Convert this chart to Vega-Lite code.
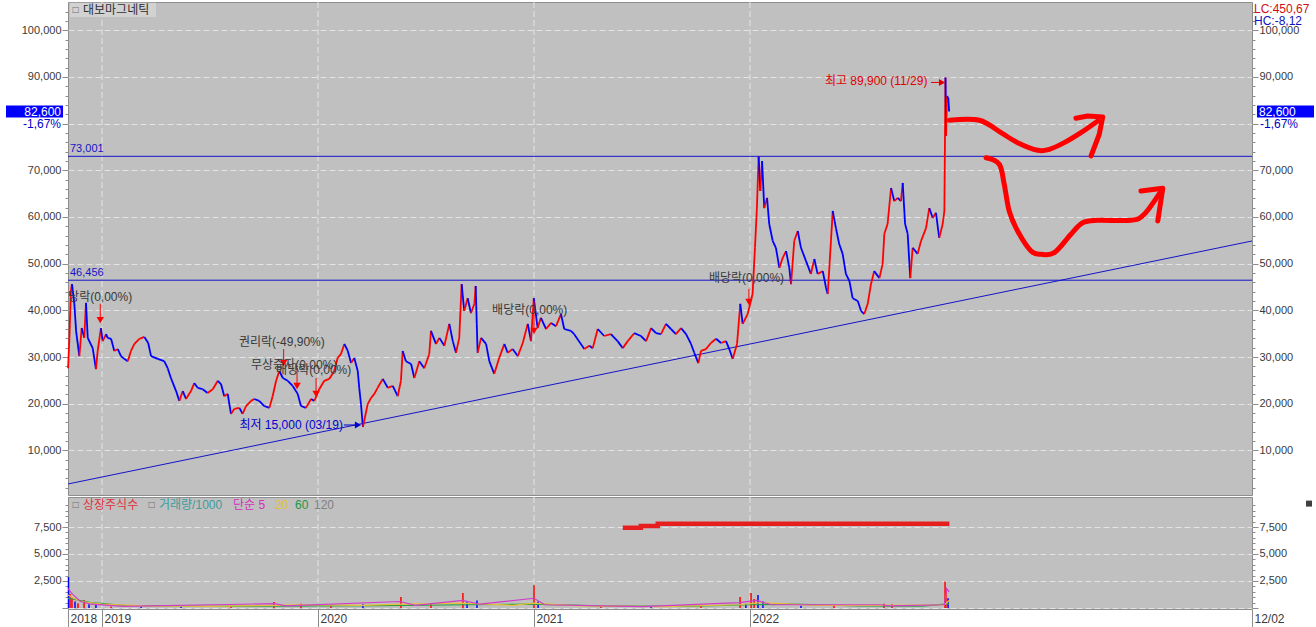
{
  "$schema": "https://vega.github.io/schema/vega-lite/v6.json",
  "padding": {"left": 5, "right": 3, "top": 1, "bottom": 0},
  "background": "white",
  "spacing": 0,
  "config": {
    "view": {"fill": "#c0c0c0", "stroke": "#8c8c8c"},
    "axis": {"labelFont": "Liberation Sans", "labelFontSize": 11, "labelColor": "#3a3a3a", "tickColor": "#8c8c8c", "domain": false, "labelOverlap": false, "labelFlush": false, "labelBound": false}
  },
  "datasets": {
    "px": [
      {"t": 2018.843, "p": 27600}, {"t": 2018.849, "p": 34100}, {"t": 2018.856, "p": 44100}, {"t": 2018.861, "p": 45600},
      {"t": 2018.872, "p": 41400}, {"t": 2018.880, "p": 35600}, {"t": 2018.895, "p": 30200}, {"t": 2018.906, "p": 36200},
      {"t": 2018.918, "p": 34100}, {"t": 2018.926, "p": 41600}, {"t": 2018.934, "p": 34100}, {"t": 2018.957, "p": 31900},
      {"t": 2018.972, "p": 27400}, {"t": 2018.980, "p": 31300}, {"t": 2018.995, "p": 36200}, {"t": 2019.003, "p": 33400},
      {"t": 2019.019, "p": 34900}, {"t": 2019.026, "p": 34100}, {"t": 2019.042, "p": 33900}, {"t": 2019.057, "p": 31300},
      {"t": 2019.073, "p": 31700}, {"t": 2019.088, "p": 30200}, {"t": 2019.103, "p": 29600}, {"t": 2019.119, "p": 29100},
      {"t": 2019.134, "p": 31300}, {"t": 2019.150, "p": 32800}, {"t": 2019.173, "p": 33900}, {"t": 2019.196, "p": 34300},
      {"t": 2019.214, "p": 33000}, {"t": 2019.227, "p": 30200}, {"t": 2019.258, "p": 29600}, {"t": 2019.288, "p": 29100},
      {"t": 2019.304, "p": 27600}, {"t": 2019.319, "p": 25500}, {"t": 2019.343, "p": 22700}, {"t": 2019.358, "p": 20600},
      {"t": 2019.374, "p": 22700}, {"t": 2019.389, "p": 21000}, {"t": 2019.412, "p": 22700}, {"t": 2019.427, "p": 24400},
      {"t": 2019.443, "p": 23400}, {"t": 2019.466, "p": 23100}, {"t": 2019.489, "p": 22300}, {"t": 2019.513, "p": 23100},
      {"t": 2019.536, "p": 24900}, {"t": 2019.551, "p": 24200}, {"t": 2019.566, "p": 21600}, {"t": 2019.582, "p": 22100},
      {"t": 2019.597, "p": 17800}, {"t": 2019.613, "p": 18900}, {"t": 2019.636, "p": 19100}, {"t": 2019.651, "p": 17800},
      {"t": 2019.667, "p": 19500}, {"t": 2019.690, "p": 20600}, {"t": 2019.705, "p": 21000}, {"t": 2019.728, "p": 20600},
      {"t": 2019.751, "p": 19500}, {"t": 2019.775, "p": 19100}, {"t": 2019.790, "p": 21600}, {"t": 2019.806, "p": 24900},
      {"t": 2019.821, "p": 27000}, {"t": 2019.837, "p": 25500}, {"t": 2019.860, "p": 24900}, {"t": 2019.883, "p": 23800},
      {"t": 2019.906, "p": 22100}, {"t": 2019.921, "p": 19500}, {"t": 2019.944, "p": 19100}, {"t": 2019.968, "p": 21000},
      {"t": 2019.983, "p": 20600}, {"t": 2020.006, "p": 23100}, {"t": 2020.029, "p": 24900}, {"t": 2020.052, "p": 25300},
      {"t": 2020.075, "p": 27000}, {"t": 2020.091, "p": 29800}, {"t": 2020.106, "p": 30600}, {"t": 2020.122, "p": 32800},
      {"t": 2020.138, "p": 31300}, {"t": 2020.153, "p": 28700}, {"t": 2020.168, "p": 29800}, {"t": 2020.184, "p": 27000},
      {"t": 2020.191, "p": 23400}, {"t": 2020.199, "p": 19900}, {"t": 2020.208, "p": 15000}, {"t": 2020.230, "p": 19900},
      {"t": 2020.245, "p": 21200}, {"t": 2020.261, "p": 22100}, {"t": 2020.276, "p": 23400}, {"t": 2020.300, "p": 25300},
      {"t": 2020.323, "p": 23400}, {"t": 2020.346, "p": 23800}, {"t": 2020.369, "p": 21600}, {"t": 2020.384, "p": 24900},
      {"t": 2020.392, "p": 31300}, {"t": 2020.407, "p": 29100}, {"t": 2020.431, "p": 28500}, {"t": 2020.446, "p": 25500},
      {"t": 2020.469, "p": 29100}, {"t": 2020.492, "p": 27600}, {"t": 2020.515, "p": 30600}, {"t": 2020.523, "p": 35600},
      {"t": 2020.546, "p": 32800}, {"t": 2020.562, "p": 34100}, {"t": 2020.585, "p": 32400}, {"t": 2020.608, "p": 37100},
      {"t": 2020.624, "p": 33400}, {"t": 2020.639, "p": 30900}, {"t": 2020.654, "p": 34100}, {"t": 2020.665, "p": 45600},
      {"t": 2020.677, "p": 39900}, {"t": 2020.693, "p": 42600}, {"t": 2020.708, "p": 39400}, {"t": 2020.724, "p": 41400},
      {"t": 2020.730, "p": 45200}, {"t": 2020.735, "p": 37100}, {"t": 2020.739, "p": 30900}, {"t": 2020.755, "p": 34100},
      {"t": 2020.778, "p": 32800}, {"t": 2020.793, "p": 29100}, {"t": 2020.816, "p": 26400}, {"t": 2020.839, "p": 29800},
      {"t": 2020.863, "p": 32800}, {"t": 2020.878, "p": 30900}, {"t": 2020.901, "p": 31700}, {"t": 2020.925, "p": 30200},
      {"t": 2020.948, "p": 33000}, {"t": 2020.971, "p": 37100}, {"t": 2020.986, "p": 33400}, {"t": 2020.999, "p": 42600},
      {"t": 2021.017, "p": 36200}, {"t": 2021.032, "p": 38400}, {"t": 2021.056, "p": 36000}, {"t": 2021.079, "p": 37300},
      {"t": 2021.102, "p": 36600}, {"t": 2021.125, "p": 39200}, {"t": 2021.140, "p": 36000}, {"t": 2021.171, "p": 35600},
      {"t": 2021.186, "p": 34900}, {"t": 2021.233, "p": 31700}, {"t": 2021.256, "p": 32400}, {"t": 2021.272, "p": 31900},
      {"t": 2021.295, "p": 36000}, {"t": 2021.325, "p": 34500}, {"t": 2021.356, "p": 34900}, {"t": 2021.387, "p": 33400},
      {"t": 2021.411, "p": 31900}, {"t": 2021.434, "p": 33400}, {"t": 2021.464, "p": 35100}, {"t": 2021.495, "p": 34500},
      {"t": 2021.519, "p": 33400}, {"t": 2021.542, "p": 36200}, {"t": 2021.565, "p": 35100}, {"t": 2021.588, "p": 34900},
      {"t": 2021.611, "p": 37100}, {"t": 2021.634, "p": 36000}, {"t": 2021.657, "p": 34900}, {"t": 2021.681, "p": 36200},
      {"t": 2021.704, "p": 34900}, {"t": 2021.727, "p": 32800}, {"t": 2021.742, "p": 30900}, {"t": 2021.761, "p": 28700},
      {"t": 2021.773, "p": 31300}, {"t": 2021.796, "p": 31700}, {"t": 2021.819, "p": 33000}, {"t": 2021.843, "p": 33900},
      {"t": 2021.866, "p": 33000}, {"t": 2021.889, "p": 33400}, {"t": 2021.904, "p": 31700}, {"t": 2021.920, "p": 29600},
      {"t": 2021.940, "p": 32800}, {"t": 2021.946, "p": 36200}, {"t": 2021.955, "p": 41400}, {"t": 2021.966, "p": 37100},
      {"t": 2021.989, "p": 39200}, {"t": 2022.012, "p": 43500}, {"t": 2022.023, "p": 53400}, {"t": 2022.032, "p": 61900},
      {"t": 2022.040, "p": 73000}, {"t": 2022.048, "p": 65600}, {"t": 2022.056, "p": 72000}, {"t": 2022.066, "p": 61900},
      {"t": 2022.079, "p": 64100}, {"t": 2022.089, "p": 58500}, {"t": 2022.105, "p": 54900}, {"t": 2022.120, "p": 53400},
      {"t": 2022.136, "p": 49100}, {"t": 2022.151, "p": 51200}, {"t": 2022.167, "p": 52700}, {"t": 2022.182, "p": 49100},
      {"t": 2022.190, "p": 45600}, {"t": 2022.205, "p": 54900}, {"t": 2022.221, "p": 57000}, {"t": 2022.236, "p": 53400},
      {"t": 2022.259, "p": 50600}, {"t": 2022.282, "p": 47800}, {"t": 2022.298, "p": 51000}, {"t": 2022.313, "p": 47800},
      {"t": 2022.337, "p": 48400}, {"t": 2022.352, "p": 44800}, {"t": 2022.360, "p": 43500}, {"t": 2022.372, "p": 52700},
      {"t": 2022.383, "p": 61300}, {"t": 2022.398, "p": 57600}, {"t": 2022.413, "p": 54200}, {"t": 2022.429, "p": 52100},
      {"t": 2022.444, "p": 47800}, {"t": 2022.460, "p": 46300}, {"t": 2022.475, "p": 42600}, {"t": 2022.499, "p": 42000},
      {"t": 2022.514, "p": 39900}, {"t": 2022.529, "p": 39200}, {"t": 2022.545, "p": 41400}, {"t": 2022.560, "p": 45600},
      {"t": 2022.575, "p": 48400}, {"t": 2022.599, "p": 46900}, {"t": 2022.614, "p": 49900}, {"t": 2022.622, "p": 56400},
      {"t": 2022.637, "p": 58500}, {"t": 2022.653, "p": 66200}, {"t": 2022.668, "p": 63400}, {"t": 2022.684, "p": 64100},
      {"t": 2022.699, "p": 63400}, {"t": 2022.707, "p": 67300}, {"t": 2022.718, "p": 58500}, {"t": 2022.730, "p": 56400},
      {"t": 2022.742, "p": 46900}, {"t": 2022.753, "p": 53400}, {"t": 2022.776, "p": 52100}, {"t": 2022.792, "p": 54900},
      {"t": 2022.815, "p": 57600}, {"t": 2022.830, "p": 61900}, {"t": 2022.846, "p": 59800}, {"t": 2022.861, "p": 60900},
      {"t": 2022.876, "p": 55500}, {"t": 2022.892, "p": 58500}, {"t": 2022.900, "p": 61300}, {"t": 2022.905, "p": 89900},
      {"t": 2022.908, "p": 77400}, {"t": 2022.912, "p": 85900}, {"t": 2022.918, "p": 85500}, {"t": 2022.922, "p": 82600}
    ],
    "years": [{"t": 2019}, {"t": 2020}, {"t": 2021}, {"t": 2022}],
    "levels": [
      {"t": 2018.8426, "p": 73001, "lab": "73,001"},
      {"t": 2018.8426, "p": 46456, "lab": "46,456"}
    ],
    "trend": [
      {"t": 2018.8426, "p": 2790},
      {"t": 2024.3241, "p": 54860}
    ],
    "cur": [
      {"side": "L", "t": 2018.8426, "p": 82600, "price": "82,600", "chg": "-1,67%"},
      {"side": "R", "t": 2024.3241, "p": 82600, "price": "82,600", "chg": "-1,67%"}
    ],
    "events": [
      {"t": 2018.792, "p": 42860, "lab": "배당락(0,00%)"},
      {"t": 2019.634, "p": 33210, "lab": "권리락(-49,90%)"},
      {"t": 2019.690, "p": 28290, "lab": "무상증자(0,00%)"},
      {"t": 2019.806, "p": 27210, "lab": "배당락(0,00%)"},
      {"t": 2020.806, "p": 40070, "lab": "배당락(0,00%)"},
      {"t": 2021.810, "p": 46930, "lab": "배당락(0,00%)"}
    ],
    "stems": [
      {"t": 2018.992, "p1": 41400, "p2": 37900},
      {"t": 2019.841, "p1": 31700, "p2": 28700},
      {"t": 2019.903, "p1": 27600, "p2": 23800},
      {"t": 2019.991, "p1": 25500, "p2": 22100},
      {"t": 2021.000, "p1": 42000, "p2": 35600},
      {"t": 2021.995, "p1": 44600, "p2": 41800}
    ],
    "ext": [
      {"k": "hi", "t": 2022.905, "p": 89900, "lab": "최고 89,900 (11/29)"},
      {"k": "lo", "t": 2020.208, "p": 15000, "lab": "최저 15,000 (03/19)"}
    ],
    "ptr": [
      {"k": "hi", "t": 2022.838, "t2": 2022.889, "p": 88830},
      {"k": "lo", "t": 2020.120, "t2": 2020.185, "p": 15430}
    ],
    "strokes": [
      {"g": "A", "i": 0, "t": 2022.923, "p": 80730}, {"g": "A", "i": 1, "t": 2023.062, "p": 80730},
      {"g": "A", "i": 2, "t": 2023.162, "p": 78070}, {"g": "A", "i": 3, "t": 2023.239, "p": 75930},
      {"g": "A", "i": 4, "t": 2023.332, "p": 74300}, {"g": "A", "i": 5, "t": 2023.386, "p": 74510},
      {"g": "A", "i": 6, "t": 2023.455, "p": 75930}, {"g": "A", "i": 7, "t": 2023.532, "p": 78070},
      {"g": "A", "i": 8, "t": 2023.610, "p": 80580},
      {"g": "A2", "i": 0, "t": 2023.509, "p": 81160}, {"g": "A2", "i": 1, "t": 2023.563, "p": 81650},
      {"g": "A2", "i": 2, "t": 2023.633, "p": 81430}, {"g": "A2", "i": 3, "t": 2023.617, "p": 77730},
      {"g": "A2", "i": 4, "t": 2023.579, "p": 73080},
      {"g": "B", "i": 0, "t": 2023.093, "p": 72710}, {"g": "B", "i": 1, "t": 2023.154, "p": 71300},
      {"g": "B", "i": 2, "t": 2023.177, "p": 67010}, {"g": "B", "i": 3, "t": 2023.200, "p": 61290},
      {"g": "B", "i": 4, "t": 2023.239, "p": 57000}, {"g": "B", "i": 5, "t": 2023.301, "p": 52720},
      {"g": "B", "i": 6, "t": 2023.347, "p": 52010}, {"g": "B", "i": 7, "t": 2023.409, "p": 52350},
      {"g": "B", "i": 8, "t": 2023.486, "p": 56300}, {"g": "B", "i": 9, "t": 2023.540, "p": 58780},
      {"g": "B", "i": 10, "t": 2023.610, "p": 59300}, {"g": "B", "i": 11, "t": 2023.764, "p": 59300},
      {"g": "B", "i": 12, "t": 2023.825, "p": 60580}, {"g": "B", "i": 13, "t": 2023.903, "p": 65580},
      {"g": "B2", "i": 0, "t": 2023.810, "p": 65580}, {"g": "B2", "i": 1, "t": 2023.911, "p": 66150},
      {"g": "B2", "i": 2, "t": 2023.888, "p": 59150}
    ],
    "ttl": [{"t": 2018.8426, "p": 106071}],
    "corner": [{"t": 2024.3241, "p": 106071}],
    "vol": [
      {"t": 2018.845, "v": 2870, "up": 0}, {"t": 2018.852, "v": 1300, "up": 1}, {"t": 2018.861, "v": 900, "up": 1},
      {"t": 2018.875, "v": 600, "up": 0}, {"t": 2018.889, "v": 450, "up": 1}, {"t": 2018.917, "v": 740, "up": 1},
      {"t": 2018.940, "v": 350, "up": 0}, {"t": 2018.972, "v": 300, "up": 0}, {"t": 2019.042, "v": 150, "up": 1},
      {"t": 2019.181, "v": 120, "up": 0}, {"t": 2019.366, "v": 150, "up": 0}, {"t": 2019.597, "v": 130, "up": 1},
      {"t": 2019.796, "v": 550, "up": 1}, {"t": 2019.921, "v": 400, "up": 1}, {"t": 2020.060, "v": 200, "up": 1},
      {"t": 2020.208, "v": 350, "up": 0}, {"t": 2020.384, "v": 1020, "up": 1}, {"t": 2020.523, "v": 400, "up": 1},
      {"t": 2020.671, "v": 1400, "up": 1}, {"t": 2020.690, "v": 600, "up": 0}, {"t": 2020.736, "v": 700, "up": 0},
      {"t": 2021.000, "v": 2100, "up": 1}, {"t": 2021.019, "v": 600, "up": 0}, {"t": 2021.310, "v": 150, "up": 1},
      {"t": 2021.542, "v": 120, "up": 0}, {"t": 2021.773, "v": 200, "up": 1}, {"t": 2021.954, "v": 1020, "up": 1},
      {"t": 2021.981, "v": 400, "up": 0}, {"t": 2022.005, "v": 1400, "up": 1}, {"t": 2022.019, "v": 830, "up": 1},
      {"t": 2022.037, "v": 1200, "up": 0}, {"t": 2022.060, "v": 600, "up": 0}, {"t": 2022.236, "v": 200, "up": 0},
      {"t": 2022.389, "v": 300, "up": 1}, {"t": 2022.620, "v": 400, "up": 1}, {"t": 2022.657, "v": 350, "up": 1},
      {"t": 2022.903, "v": 2450, "up": 1}, {"t": 2022.907, "v": 1600, "up": 1}, {"t": 2022.917, "v": 900, "up": 0}
    ],
    "ma": [
      {"s": "60", "t": 2018.843, "v": 900}, {"s": "60", "t": 2018.95, "v": 500}, {"s": "60", "t": 2019.1, "v": 250},
      {"s": "60", "t": 2019.5, "v": 150}, {"s": "60", "t": 2019.8, "v": 180}, {"s": "60", "t": 2020.0, "v": 200},
      {"s": "60", "t": 2020.3, "v": 220}, {"s": "60", "t": 2020.7, "v": 300}, {"s": "60", "t": 2021.0, "v": 350},
      {"s": "60", "t": 2021.3, "v": 200}, {"s": "60", "t": 2021.7, "v": 150}, {"s": "60", "t": 2022.0, "v": 300},
      {"s": "60", "t": 2022.2, "v": 350}, {"s": "60", "t": 2022.5, "v": 200}, {"s": "60", "t": 2022.8, "v": 180},
      {"s": "60", "t": 2022.922, "v": 400},
      {"s": "20", "t": 2018.843, "v": 1200}, {"s": "20", "t": 2018.9, "v": 600}, {"s": "20", "t": 2019.0, "v": 350},
      {"s": "20", "t": 2019.2, "v": 200}, {"s": "20", "t": 2019.5, "v": 150}, {"s": "20", "t": 2019.8, "v": 250},
      {"s": "20", "t": 2019.9, "v": 300}, {"s": "20", "t": 2020.2, "v": 250}, {"s": "20", "t": 2020.4, "v": 350},
      {"s": "20", "t": 2020.68, "v": 450}, {"s": "20", "t": 2020.9, "v": 250}, {"s": "20", "t": 2021.0, "v": 450},
      {"s": "20", "t": 2021.2, "v": 200}, {"s": "20", "t": 2021.6, "v": 120}, {"s": "20", "t": 2021.95, "v": 300},
      {"s": "20", "t": 2022.05, "v": 500}, {"s": "20", "t": 2022.3, "v": 250}, {"s": "20", "t": 2022.6, "v": 250},
      {"s": "20", "t": 2022.9, "v": 300}, {"s": "20", "t": 2022.922, "v": 700},
      {"s": "5", "t": 2018.843, "v": 1800}, {"s": "5", "t": 2018.86, "v": 1350}, {"s": "5", "t": 2018.9, "v": 600},
      {"s": "5", "t": 2018.95, "v": 350}, {"s": "5", "t": 2019.1, "v": 150}, {"s": "5", "t": 2019.8, "v": 400},
      {"s": "5", "t": 2019.85, "v": 200}, {"s": "5", "t": 2020.38, "v": 600}, {"s": "5", "t": 2020.45, "v": 250},
      {"s": "5", "t": 2020.67, "v": 700}, {"s": "5", "t": 2020.75, "v": 350}, {"s": "5", "t": 2021.0, "v": 900},
      {"s": "5", "t": 2021.05, "v": 300}, {"s": "5", "t": 2021.5, "v": 120}, {"s": "5", "t": 2021.95, "v": 500},
      {"s": "5", "t": 2022.03, "v": 700}, {"s": "5", "t": 2022.1, "v": 300}, {"s": "5", "t": 2022.6, "v": 300},
      {"s": "5", "t": 2022.65, "v": 200}, {"s": "5", "t": 2022.9, "v": 300}, {"s": "5", "t": 2022.91, "v": 1800},
      {"s": "5", "t": 2022.922, "v": 1500}
    ],
    "shares": [
      {"t": 2021.411, "v": 7436}, {"t": 2021.495, "v": 7593}, {"t": 2021.573, "v": 7806}, {"t": 2022.923, "v": 7806}
    ],
    "vtop": [{"t": 2018.8426, "v": 10278}],
    "vcorner": [{"t": 2024.3241, "v": 10278}]
  },
  "vconcat": [
    {
      "width": 1184,
      "height": 493,
      "resolve": {"axis": {"y": "independent", "x": "independent"}},
      "layer": [
        {
          "data": {"name": "years"},
          "mark": {"type": "rule", "color": "#e4e4e4", "strokeWidth": 1, "strokeDash": [6, 3]},
          "encoding": {
            "x": {"field": "t", "type": "quantitative", "scale": {"domain": [2018.8426, 2024.3241], "nice": false, "zero": false}, "axis": null}
          }
        },
        {
          "data": {"name": "ttl"},
          "mark": {"type": "point", "filled": true, "opacity": 1, "color": "#d2d2d2", "size": 7396, "shape": "M0.047,0.02H2.047V0.349H0.047Z", "strokeWidth": 0},
          "encoding": {
            "x": {"field": "t", "type": "quantitative", "scale": {"domain": [2018.8426, 2024.3241], "nice": false, "zero": false}, "axis": null},
            "y": {"field": "p", "type": "quantitative", "scale": {"domain": [429, 106071], "nice": false, "zero": false}, "axis": null}
          }
        },
        {
          "data": {"name": "levels"},
          "mark": {"type": "rule", "color": "#1414c8", "strokeWidth": 1},
          "encoding": {
            "y": {"field": "p", "type": "quantitative", "scale": {"domain": [429, 106071], "nice": false, "zero": false}, "axis": null}
          }
        },
        {
          "data": {"name": "trend"},
          "mark": {"type": "line", "color": "#1414c8", "strokeWidth": 1, "clip": true},
          "encoding": {
            "x": {"field": "t", "type": "quantitative", "scale": {"domain": [2018.8426, 2024.3241], "nice": false, "zero": false}, "axis": null},
            "y": {"field": "p", "type": "quantitative", "scale": {"domain": [429, 106071], "nice": false, "zero": false}, "axis": null}
          }
        },
        {
          "data": {"name": "px"},
          "transform": [
            {"window": [{"op": "lead", "field": "t", "as": "nt"}, {"op": "lead", "field": "p", "as": "np"}], "sort": [{"field": "t", "order": "ascending"}]},
            {"filter": "datum.nt != null"}
          ],
          "mark": {"type": "rule", "strokeWidth": 1.8},
          "encoding": {
            "x": {"field": "t", "type": "quantitative", "scale": {"domain": [2018.8426, 2024.3241], "nice": false, "zero": false}, "axis": null},
            "x2": {"field": "nt"},
            "y": {"field": "p", "type": "quantitative", "scale": {"domain": [429, 106071], "nice": false, "zero": false},
              "axis": {"orient": "left",
                "values": [2000, 4000, 6000, 8000, 10000, 12000, 14000, 16000, 18000, 20000, 22000, 24000, 26000, 28000, 30000, 32000, 34000, 36000, 38000, 40000, 42000, 44000, 46000, 48000, 50000, 52000, 54000, 56000, 58000, 60000, 62000, 64000, 66000, 68000, 70000, 72000, 74000, 76000, 78000, 80000, 82000, 84000, 86000, 88000, 90000, 92000, 94000, 96000, 98000, 100000, 102000, 104000],
                "labelExpr": "(datum.value % 10000 == 0 && datum.value != 80000) ? format(datum.value, ',') : ''",
                "tickSize": {"condition": {"test": "datum.value % 10000 == 0", "value": 6}, "value": 3},
                "labelPadding": 1,
                "grid": true, "gridDash": [6, 3], "gridColor": "#e4e4e4",
                "gridOpacity": {"condition": {"test": "datum.value % 10000 == 0", "value": 1}, "value": 0},
                "title": null}},
            "y2": {"field": "np"},
            "color": {"condition": {"test": "datum.np >= datum.p", "value": "#ff0000"}, "value": "#0000ff"}
          }
        },
        {
          "data": {"name": "cur"},
          "transform": [{"filter": "datum.side == 'R'"}],
          "mark": {"type": "point", "filled": true, "opacity": 1, "color": "#0000ff", "size": 3844, "shape": "M0.16,-0.194H2V0.194H0.16Z", "strokeWidth": 0},
          "encoding": {
            "x": {"field": "t", "type": "quantitative", "scale": {"domain": [2018.8426, 2024.3241], "nice": false, "zero": false}, "axis": null},
            "y": {"field": "p", "type": "quantitative", "scale": {"domain": [429, 106071], "nice": false, "zero": false},
              "axis": {"orient": "right",
                "values": [2000, 4000, 6000, 8000, 10000, 12000, 14000, 16000, 18000, 20000, 22000, 24000, 26000, 28000, 30000, 32000, 34000, 36000, 38000, 40000, 42000, 44000, 46000, 48000, 50000, 52000, 54000, 56000, 58000, 60000, 62000, 64000, 66000, 68000, 70000, 72000, 74000, 76000, 78000, 80000, 82000, 84000, 86000, 88000, 90000, 92000, 94000, 96000, 98000, 100000, 102000, 104000],
                "labelExpr": "(datum.value % 10000 == 0 && datum.value != 80000) ? format(datum.value, ',') : ''",
                "tickSize": {"condition": {"test": "datum.value % 10000 == 0", "value": 6}, "value": 3},
                "labelPadding": 1,
                "grid": false,
                "title": null}}
          }
        },
        {
          "data": {"name": "cur"},
          "transform": [{"filter": "datum.side == 'L'"}],
          "mark": {"type": "point", "filled": true, "opacity": 1, "color": "#0000ff", "size": 3844, "shape": "M-2,-0.194H-0.16V0.194H-2Z", "strokeWidth": 0},
          "encoding": {
            "x": {"field": "t", "type": "quantitative", "scale": {"domain": [2018.8426, 2024.3241], "nice": false, "zero": false}, "axis": null},
            "y": {"field": "p", "type": "quantitative", "scale": {"domain": [429, 106071], "nice": false, "zero": false}, "axis": null}
          }
        },
        {
          "data": {"name": "cur"},
          "transform": [{"filter": "datum.side == 'L'"}],
          "mark": {"type": "text", "align": "right", "baseline": "middle", "dx": -7, "color": "#ffffff", "font": "Liberation Sans", "fontSize": 12},
          "encoding": {
            "x": {"field": "t", "type": "quantitative", "scale": {"domain": [2018.8426, 2024.3241], "nice": false, "zero": false}, "axis": null},
            "y": {"field": "p", "type": "quantitative", "scale": {"domain": [429, 106071], "nice": false, "zero": false}, "axis": null},
            "text": {"field": "price"}
          }
        },
        {
          "data": {"name": "cur"},
          "transform": [{"filter": "datum.side == 'R'"}],
          "mark": {"type": "text", "align": "left", "baseline": "middle", "dx": 7, "color": "#ffffff", "font": "Liberation Sans", "fontSize": 12},
          "encoding": {
            "x": {"field": "t", "type": "quantitative", "scale": {"domain": [2018.8426, 2024.3241], "nice": false, "zero": false}, "axis": null},
            "y": {"field": "p", "type": "quantitative", "scale": {"domain": [429, 106071], "nice": false, "zero": false}, "axis": null},
            "text": {"field": "price"}
          }
        },
        {
          "data": {"name": "cur"},
          "transform": [{"filter": "datum.side == 'L'"}],
          "mark": {"type": "text", "align": "right", "baseline": "middle", "dx": -7, "dy": 12, "color": "#0000c8", "font": "Liberation Sans", "fontSize": 12},
          "encoding": {
            "x": {"field": "t", "type": "quantitative", "scale": {"domain": [2018.8426, 2024.3241], "nice": false, "zero": false}, "axis": null},
            "y": {"field": "p", "type": "quantitative", "scale": {"domain": [429, 106071], "nice": false, "zero": false}, "axis": null},
            "text": {"field": "chg"}
          }
        },
        {
          "data": {"name": "cur"},
          "transform": [{"filter": "datum.side == 'R'"}],
          "mark": {"type": "text", "align": "left", "baseline": "middle", "dx": 8, "dy": 12, "color": "#0000c8", "font": "Liberation Sans", "fontSize": 12},
          "encoding": {
            "x": {"field": "t", "type": "quantitative", "scale": {"domain": [2018.8426, 2024.3241], "nice": false, "zero": false}, "axis": null},
            "y": {"field": "p", "type": "quantitative", "scale": {"domain": [429, 106071], "nice": false, "zero": false}, "axis": null},
            "text": {"field": "chg"}
          }
        },
        {
          "data": {"name": "levels"},
          "mark": {"type": "text", "align": "left", "baseline": "bottom", "dx": 2, "dy": -2, "color": "#1414c8", "font": "Liberation Sans", "fontSize": 11},
          "encoding": {
            "x": {"field": "t", "type": "quantitative", "scale": {"domain": [2018.8426, 2024.3241], "nice": false, "zero": false}, "axis": null},
            "y": {"field": "p", "type": "quantitative", "scale": {"domain": [429, 106071], "nice": false, "zero": false}, "axis": null},
            "text": {"field": "lab"}
          }
        },
        {
          "data": {"name": "stems"},
          "mark": {"type": "rule", "color": "#ff0000", "strokeWidth": 1},
          "encoding": {
            "x": {"field": "t", "type": "quantitative", "scale": {"domain": [2018.8426, 2024.3241], "nice": false, "zero": false}, "axis": null},
            "y": {"field": "p1", "type": "quantitative", "scale": {"domain": [429, 106071], "nice": false, "zero": false}, "axis": null},
            "y2": {"field": "p2"}
          }
        },
        {
          "data": {"name": "stems"},
          "mark": {"type": "point", "shape": "triangle-down", "filled": true, "opacity": 1, "color": "#ff0000", "size": 55},
          "encoding": {
            "x": {"field": "t", "type": "quantitative", "scale": {"domain": [2018.8426, 2024.3241], "nice": false, "zero": false}, "axis": null},
            "y": {"field": "p2", "type": "quantitative", "scale": {"domain": [429, 106071], "nice": false, "zero": false}, "axis": null}
          }
        },
        {
          "data": {"name": "events"},
          "mark": {"type": "text", "align": "left", "baseline": "middle", "color": "#383838", "font": "Liberation Sans, Noto Sans CJK KR", "fontSize": 12, "clip": true},
          "encoding": {
            "x": {"field": "t", "type": "quantitative", "scale": {"domain": [2018.8426, 2024.3241], "nice": false, "zero": false}, "axis": null},
            "y": {"field": "p", "type": "quantitative", "scale": {"domain": [429, 106071], "nice": false, "zero": false}, "axis": null},
            "text": {"field": "lab"}
          }
        },
        {
          "data": {"name": "ext"},
          "transform": [{"filter": "datum.k == 'hi'"}],
          "mark": {"type": "text", "align": "right", "baseline": "middle", "dx": -18, "dy": 4, "color": "#e00000", "font": "Liberation Sans, Noto Sans CJK KR", "fontSize": 12},
          "encoding": {
            "x": {"field": "t", "type": "quantitative", "scale": {"domain": [2018.8426, 2024.3241], "nice": false, "zero": false}, "axis": null},
            "y": {"field": "p", "type": "quantitative", "scale": {"domain": [429, 106071], "nice": false, "zero": false}, "axis": null},
            "text": {"field": "lab"}
          }
        },
        {
          "data": {"name": "ext"},
          "transform": [{"filter": "datum.k == 'lo'"}],
          "mark": {"type": "text", "align": "right", "baseline": "middle", "dx": -20, "dy": -2, "color": "#0000d0", "font": "Liberation Sans, Noto Sans CJK KR", "fontSize": 12},
          "encoding": {
            "x": {"field": "t", "type": "quantitative", "scale": {"domain": [2018.8426, 2024.3241], "nice": false, "zero": false}, "axis": null},
            "y": {"field": "p", "type": "quantitative", "scale": {"domain": [429, 106071], "nice": false, "zero": false}, "axis": null},
            "text": {"field": "lab"}
          }
        },
        {
          "data": {"name": "ptr"},
          "mark": {"type": "rule", "strokeWidth": 1},
          "encoding": {
            "x": {"field": "t", "type": "quantitative", "scale": {"domain": [2018.8426, 2024.3241], "nice": false, "zero": false}, "axis": null},
            "x2": {"field": "t2"},
            "y": {"field": "p", "type": "quantitative", "scale": {"domain": [429, 106071], "nice": false, "zero": false}, "axis": null},
            "color": {"condition": {"test": "datum.k == 'hi'", "value": "#e00000"}, "value": "#0000d0"}
          }
        },
        {
          "data": {"name": "ptr"},
          "mark": {"type": "point", "shape": "triangle-right", "filled": true, "opacity": 1, "size": 50},
          "encoding": {
            "x": {"field": "t2", "type": "quantitative", "scale": {"domain": [2018.8426, 2024.3241], "nice": false, "zero": false}, "axis": null},
            "y": {"field": "p", "type": "quantitative", "scale": {"domain": [429, 106071], "nice": false, "zero": false}, "axis": null},
            "color": {"condition": {"test": "datum.k == 'hi'", "value": "#e00000"}, "value": "#0000d0"}
          }
        },
        {
          "data": {"name": "strokes"},
          "transform": [{"filter": "length(datum.g) == 1"}],
          "mark": {"type": "line", "color": "#ff0000", "strokeWidth": 5, "strokeCap": "round", "strokeJoin": "round", "interpolate": "cardinal", "clip": true},
          "encoding": {
            "x": {"field": "t", "type": "quantitative", "scale": {"domain": [2018.8426, 2024.3241], "nice": false, "zero": false}, "axis": null},
            "y": {"field": "p", "type": "quantitative", "scale": {"domain": [429, 106071], "nice": false, "zero": false}, "axis": null},
            "detail": {"field": "g"},
            "order": {"field": "i"}
          }
        },
        {
          "data": {"name": "strokes"},
          "transform": [{"filter": "length(datum.g) == 2"}],
          "mark": {"type": "line", "color": "#ff0000", "strokeWidth": 5, "strokeCap": "round", "strokeJoin": "round", "clip": true},
          "encoding": {
            "x": {"field": "t", "type": "quantitative", "scale": {"domain": [2018.8426, 2024.3241], "nice": false, "zero": false}, "axis": null},
            "y": {"field": "p", "type": "quantitative", "scale": {"domain": [429, 106071], "nice": false, "zero": false}, "axis": null},
            "detail": {"field": "g"},
            "order": {"field": "i"}
          }
        },
        {
          "data": {"name": "ttl"},
          "mark": {"type": "text", "align": "left", "baseline": "middle", "dx": 4, "dy": 8, "text": "□", "color": "#707070", "font": "DejaVu Sans", "fontSize": 8},
          "encoding": {
            "x": {"field": "t", "type": "quantitative", "scale": {"domain": [2018.8426, 2024.3241], "nice": false, "zero": false}, "axis": null},
            "y": {"field": "p", "type": "quantitative", "scale": {"domain": [429, 106071], "nice": false, "zero": false}, "axis": null}
          }
        },
        {
          "data": {"name": "ttl"},
          "mark": {"type": "text", "align": "left", "baseline": "middle", "dx": 15, "dy": 8, "text": "대보마그네틱", "color": "#303030", "font": "Noto Sans CJK KR", "fontSize": 12},
          "encoding": {
            "x": {"field": "t", "type": "quantitative", "scale": {"domain": [2018.8426, 2024.3241], "nice": false, "zero": false}, "axis": null},
            "y": {"field": "p", "type": "quantitative", "scale": {"domain": [429, 106071], "nice": false, "zero": false}, "axis": null}
          }
        },
        {
          "data": {"name": "corner"},
          "mark": {"type": "text", "align": "left", "baseline": "middle", "dx": 2, "dy": 7, "text": "LC:450,67", "color": "#d01010", "font": "Liberation Sans", "fontSize": 12},
          "encoding": {
            "x": {"field": "t", "type": "quantitative", "scale": {"domain": [2018.8426, 2024.3241], "nice": false, "zero": false}, "axis": null},
            "y": {"field": "p", "type": "quantitative", "scale": {"domain": [429, 106071], "nice": false, "zero": false}, "axis": null}
          }
        },
        {
          "data": {"name": "corner"},
          "mark": {"type": "text", "align": "left", "baseline": "middle", "dx": 2, "dy": 19, "text": "HC:-8,12", "color": "#1010c0", "font": "Liberation Sans", "fontSize": 12},
          "encoding": {
            "x": {"field": "t", "type": "quantitative", "scale": {"domain": [2018.8426, 2024.3241], "nice": false, "zero": false}, "axis": null},
            "y": {"field": "p", "type": "quantitative", "scale": {"domain": [429, 106071], "nice": false, "zero": false}, "axis": null}
          }
        }
      ]
    },
    {
      "width": 1184,
      "height": 112,
      "resolve": {"axis": {"y": "independent", "x": "independent"}},
      "layer": [
        {
          "data": {"name": "years"},
          "mark": {"type": "rule", "color": "#e4e4e4", "strokeWidth": 1, "strokeDash": [6, 3]},
          "encoding": {
            "x": {"field": "t", "type": "quantitative", "scale": {"domain": [2018.8426, 2024.3241], "nice": false, "zero": false},
              "axis": {"orient": "bottom", "values": [2018.8426, 2019, 2020, 2021, 2022, 2024.3241],
                "labelExpr": "datum.value > 2024 ? '  12/02' : (datum.value < 2019 ? '2018' : format(datum.value, 'd'))",
                "labelAlign": "left", "labelBaseline": "middle", "labelFontSize": 12, "labelOffset": 2,
                "tickSize": 20, "tickColor": "#8c8c8c", "labelPadding": -11,
                "grid": false, "domain": false, "title": null}}
          }
        },
        {
          "data": {"name": "vol"},
          "mark": {"type": "rule", "strokeWidth": 1.5},
          "encoding": {
            "x": {"field": "t", "type": "quantitative", "scale": {"domain": [2018.8426, 2024.3241], "nice": false, "zero": false}, "axis": null},
            "y": {"field": "v", "type": "quantitative", "scale": {"domain": [-93, 10278], "nice": false, "zero": false},
              "axis": {"orient": "left",
                "values": [0, 500, 1000, 1500, 2000, 2500, 3000, 3500, 4000, 4500, 5000, 5500, 6000, 6500, 7000, 7500, 8000, 8500, 9000, 9500],
                "labelExpr": "(datum.value % 2500 == 0 && datum.value > 0) ? format(datum.value, ',') : ''",
                "tickSize": {"condition": {"test": "datum.value % 2500 == 0", "value": 6}, "value": 3},
                "labelPadding": 1,
                "grid": true, "gridDash": [6, 3], "gridColor": "#e4e4e4",
                "gridOpacity": {"condition": {"test": "datum.value % 2500 == 0", "value": 1}, "value": 0},
                "title": null}},
            "y2": {"datum": 0},
            "color": {"condition": {"test": "datum.up == 1", "value": "#ff0000"}, "value": "#0000ff"}
          }
        },
        {
          "data": {"name": "ma"},
          "mark": {"type": "line", "strokeWidth": 1.2},
          "encoding": {
            "x": {"field": "t", "type": "quantitative", "scale": {"domain": [2018.8426, 2024.3241], "nice": false, "zero": false}, "axis": null},
            "y": {"field": "v", "type": "quantitative", "scale": {"domain": [-93, 10278], "nice": false, "zero": false}, "axis": null},
            "color": {"field": "s", "type": "nominal", "scale": {"domain": ["5", "20", "60"], "range": ["#d23cc8", "#e6be3c", "#28a046"]}, "legend": null}
          }
        },
        {
          "data": {"name": "shares"},
          "mark": {"type": "line", "color": "#e61e1e", "strokeWidth": 4.5, "interpolate": "step-after"},
          "encoding": {
            "x": {"field": "t", "type": "quantitative", "scale": {"domain": [2018.8426, 2024.3241], "nice": false, "zero": false}, "axis": null},
            "y": {"field": "v", "type": "quantitative", "scale": {"domain": [-93, 10278], "nice": false, "zero": false},
              "axis": {"orient": "right",
                "values": [0, 500, 1000, 1500, 2000, 2500, 3000, 3500, 4000, 4500, 5000, 5500, 6000, 6500, 7000, 7500, 8000, 8500, 9000, 9500],
                "labelExpr": "(datum.value % 2500 == 0 && datum.value > 0) ? format(datum.value, ',') : ''",
                "tickSize": {"condition": {"test": "datum.value % 2500 == 0", "value": 6}, "value": 3},
                "labelPadding": 1, "grid": false, "title": null}}
          }
        },
        {
          "data": {"name": "vcorner"},
          "mark": {"type": "point", "filled": true, "opacity": 1, "color": "#404040", "size": 3600, "shape": "M1.8,0.12H2.0V0.32H1.8Z", "strokeWidth": 0},
          "encoding": {
            "x": {"field": "t", "type": "quantitative", "scale": {"domain": [2018.8426, 2024.3241], "nice": false, "zero": false}, "axis": null},
            "y": {"field": "v", "type": "quantitative", "scale": {"domain": [-93, 10278], "nice": false, "zero": false}, "axis": null}
          }
        },
        {
          "data": {"name": "vtop"},
          "mark": {"type": "text", "align": "left", "baseline": "middle", "dx": 4, "dy": 8, "text": "□", "color": "#707070", "font": "DejaVu Sans", "fontSize": 8},
          "encoding": {
            "x": {"field": "t", "type": "quantitative", "scale": {"domain": [2018.8426, 2024.3241], "nice": false, "zero": false}, "axis": null},
            "y": {"field": "v", "type": "quantitative", "scale": {"domain": [-93, 10278], "nice": false, "zero": false}, "axis": null}
          }
        },
        {
          "data": {"name": "vtop"},
          "mark": {"type": "text", "align": "left", "baseline": "middle", "dx": 15, "dy": 8, "text": "상장주식수", "color": "#e0303c", "font": "Noto Sans CJK KR", "fontSize": 12},
          "encoding": {
            "x": {"field": "t", "type": "quantitative", "scale": {"domain": [2018.8426, 2024.3241], "nice": false, "zero": false}, "axis": null},
            "y": {"field": "v", "type": "quantitative", "scale": {"domain": [-93, 10278], "nice": false, "zero": false}, "axis": null}
          }
        },
        {
          "data": {"name": "vtop"},
          "mark": {"type": "text", "align": "left", "baseline": "middle", "dx": 80, "dy": 8, "text": "□", "color": "#707070", "font": "DejaVu Sans", "fontSize": 8},
          "encoding": {
            "x": {"field": "t", "type": "quantitative", "scale": {"domain": [2018.8426, 2024.3241], "nice": false, "zero": false}, "axis": null},
            "y": {"field": "v", "type": "quantitative", "scale": {"domain": [-93, 10278], "nice": false, "zero": false}, "axis": null}
          }
        },
        {
          "data": {"name": "vtop"},
          "mark": {"type": "text", "align": "left", "baseline": "middle", "dx": 91, "dy": 8, "text": "거래량/1000", "color": "#3c9c9c", "font": "Liberation Sans, Noto Sans CJK KR", "fontSize": 12},
          "encoding": {
            "x": {"field": "t", "type": "quantitative", "scale": {"domain": [2018.8426, 2024.3241], "nice": false, "zero": false}, "axis": null},
            "y": {"field": "v", "type": "quantitative", "scale": {"domain": [-93, 10278], "nice": false, "zero": false}, "axis": null}
          }
        },
        {
          "data": {"name": "vtop"},
          "mark": {"type": "text", "align": "left", "baseline": "middle", "dx": 165, "dy": 8, "text": "단순 5", "color": "#d030c0", "font": "Liberation Sans, Noto Sans CJK KR", "fontSize": 12},
          "encoding": {
            "x": {"field": "t", "type": "quantitative", "scale": {"domain": [2018.8426, 2024.3241], "nice": false, "zero": false}, "axis": null},
            "y": {"field": "v", "type": "quantitative", "scale": {"domain": [-93, 10278], "nice": false, "zero": false}, "axis": null}
          }
        },
        {
          "data": {"name": "vtop"},
          "mark": {"type": "text", "align": "left", "baseline": "middle", "dx": 207, "dy": 8, "text": "20", "color": "#e6be3c", "font": "Liberation Sans", "fontSize": 12},
          "encoding": {
            "x": {"field": "t", "type": "quantitative", "scale": {"domain": [2018.8426, 2024.3241], "nice": false, "zero": false}, "axis": null},
            "y": {"field": "v", "type": "quantitative", "scale": {"domain": [-93, 10278], "nice": false, "zero": false}, "axis": null}
          }
        },
        {
          "data": {"name": "vtop"},
          "mark": {"type": "text", "align": "left", "baseline": "middle", "dx": 227, "dy": 8, "text": "60", "color": "#1e9640", "font": "Liberation Sans", "fontSize": 12},
          "encoding": {
            "x": {"field": "t", "type": "quantitative", "scale": {"domain": [2018.8426, 2024.3241], "nice": false, "zero": false}, "axis": null},
            "y": {"field": "v", "type": "quantitative", "scale": {"domain": [-93, 10278], "nice": false, "zero": false}, "axis": null}
          }
        },
        {
          "data": {"name": "vtop"},
          "mark": {"type": "text", "align": "left", "baseline": "middle", "dx": 246, "dy": 8, "text": "120", "color": "#808080", "font": "Liberation Sans", "fontSize": 12},
          "encoding": {
            "x": {"field": "t", "type": "quantitative", "scale": {"domain": [2018.8426, 2024.3241], "nice": false, "zero": false}, "axis": null},
            "y": {"field": "v", "type": "quantitative", "scale": {"domain": [-93, 10278], "nice": false, "zero": false}, "axis": null}
          }
        }
      ]
    }
  ]
}
